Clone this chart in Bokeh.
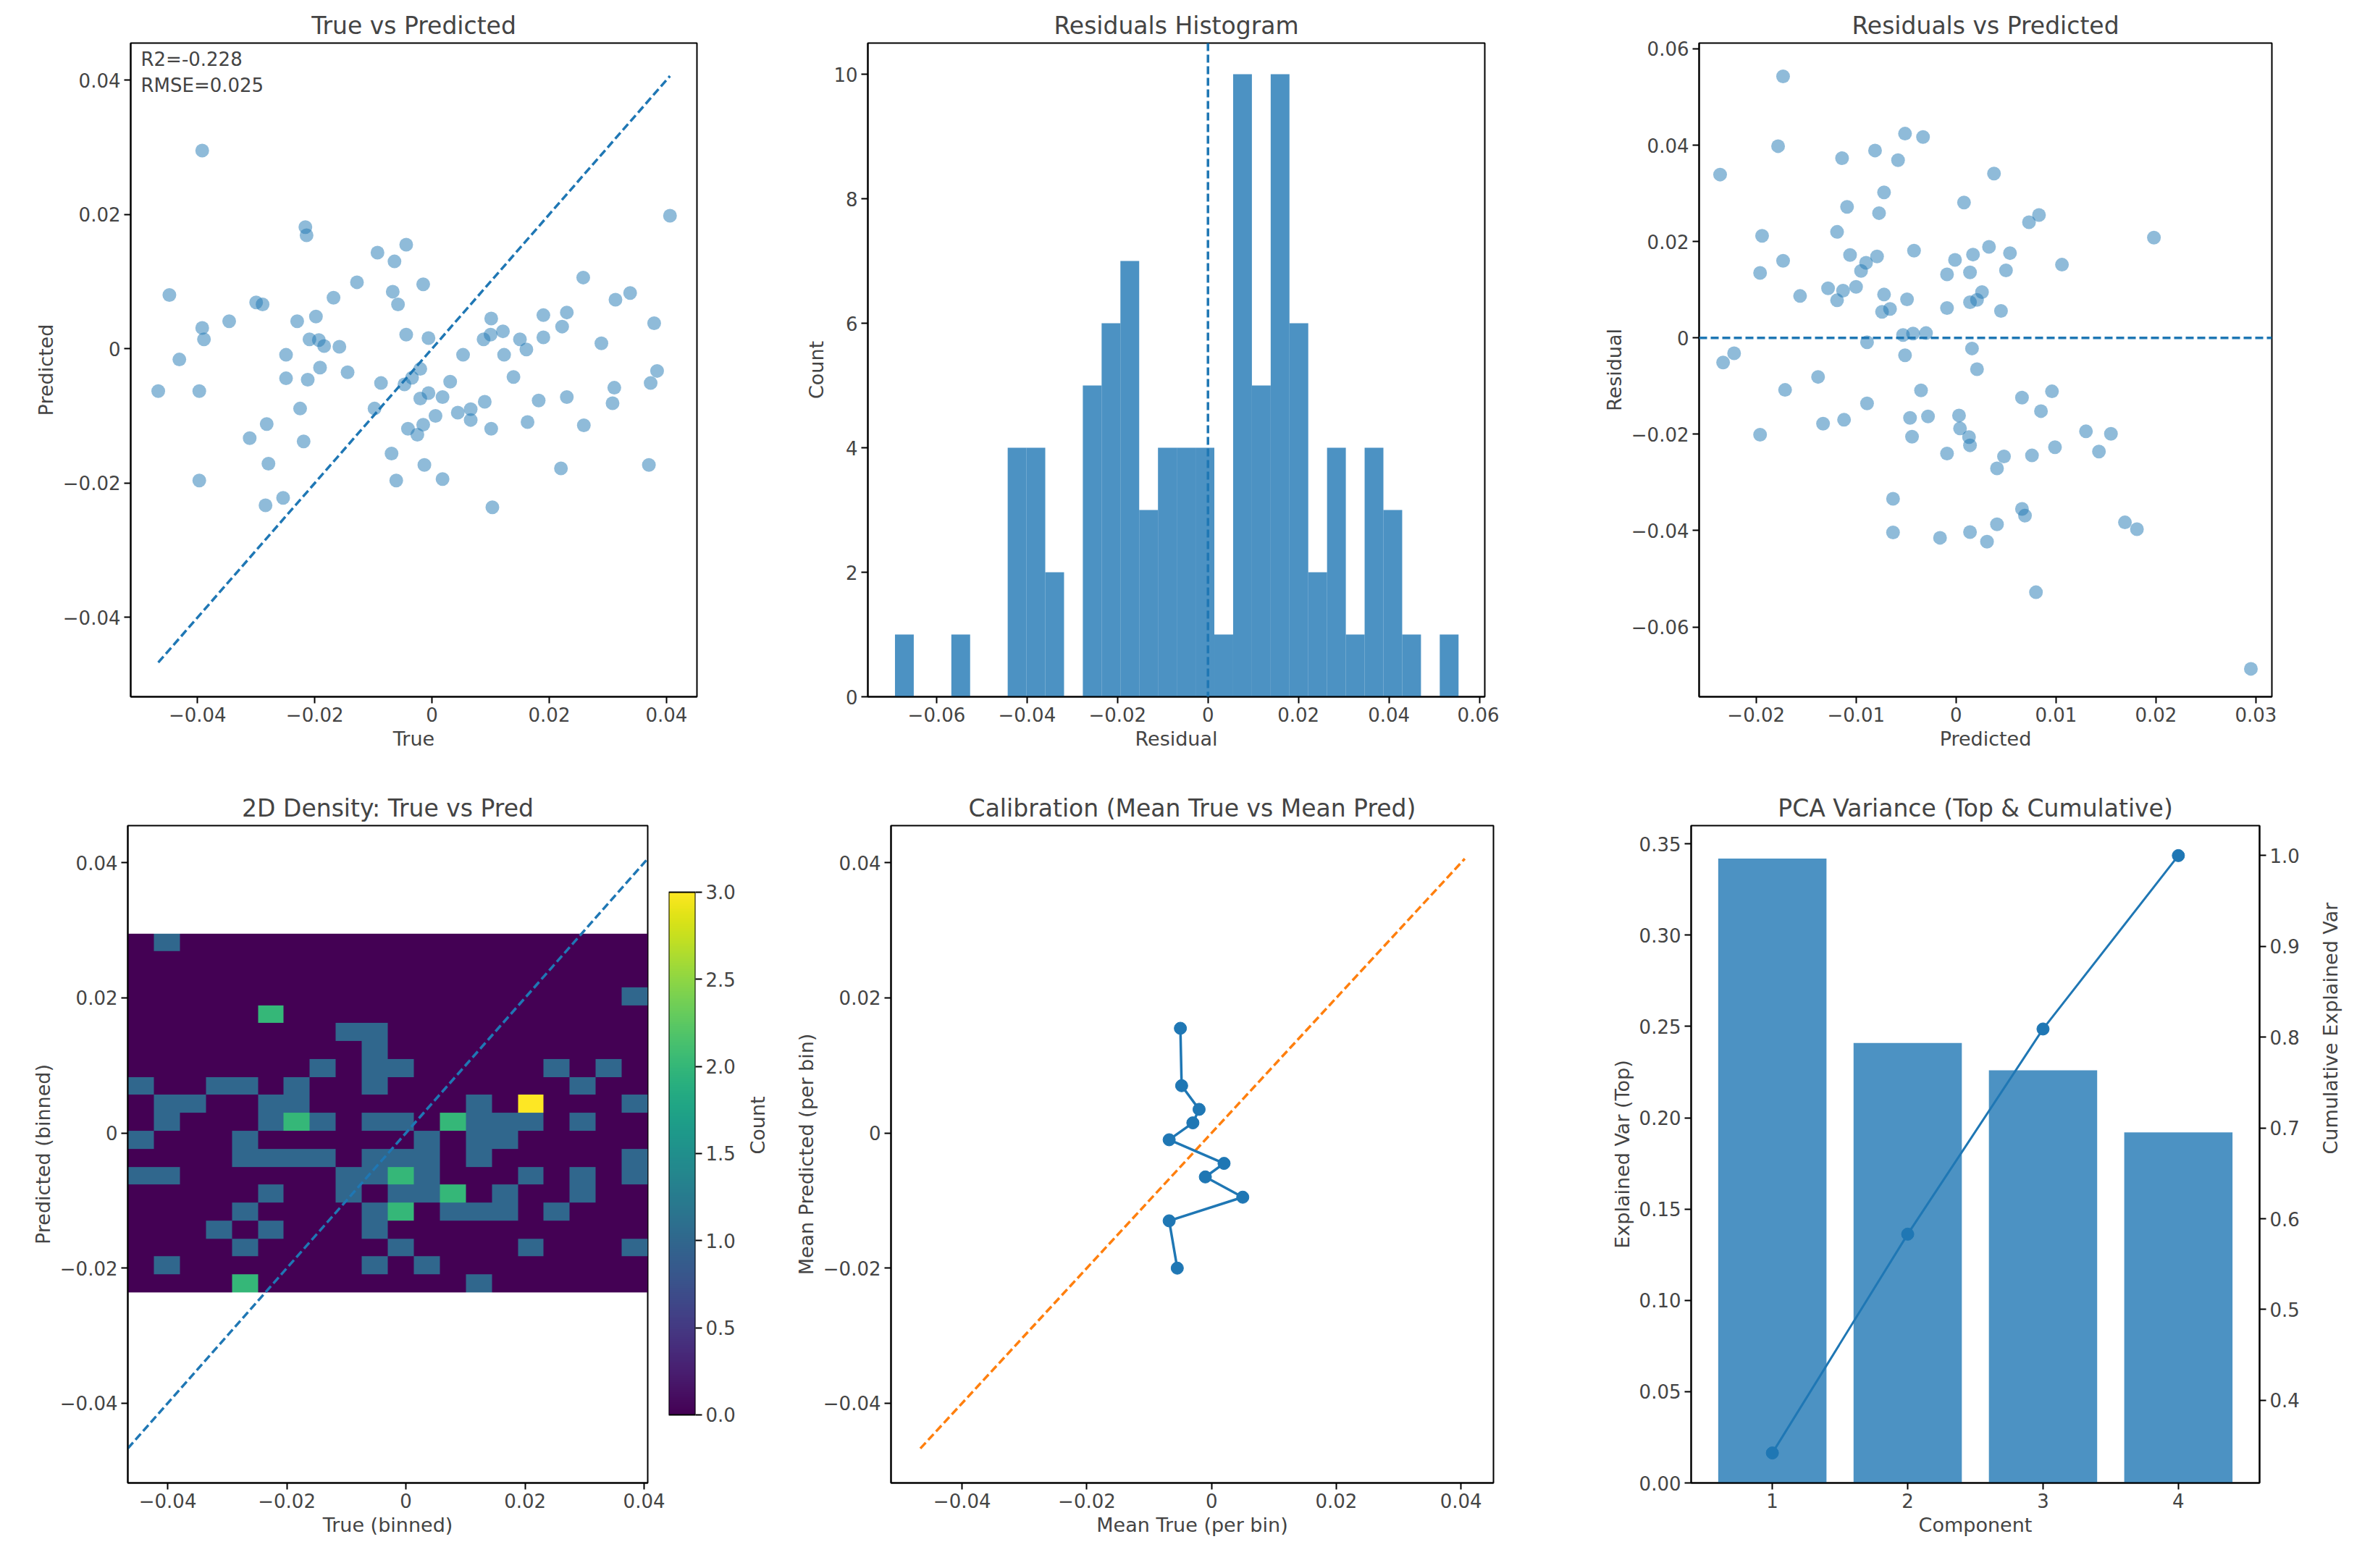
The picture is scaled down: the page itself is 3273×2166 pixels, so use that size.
import math
import numpy as np
from bokeh.plotting import figure
from bokeh.models import Label, Range1d, LinearAxis, LinearColorMapper, FixedTicker, Span
from bokeh.layouts import row, column
from bokeh.embed import file_html
from bokeh.resources import INLINE
from bokeh.palettes import Viridis256

true_vals = [-0.0392,-0.0448,-0.0467,-0.0431,-0.0397,-0.0397,-0.0392,-0.0389,-0.0346,-0.0300,
 -0.0289,-0.0311,-0.0282,-0.0279,-0.0284,-0.0254,-0.0249,-0.0249,-0.0230,-0.0225,
 -0.0219,-0.0212,-0.0216,-0.0214,-0.0209,-0.0198,-0.0193,-0.0184,-0.0191,-0.0168,
 -0.0158,-0.0144,-0.0128,-0.0093,-0.0064,-0.0044,-0.0067,-0.0058,-0.0044,-0.0015,
 -0.0006,-0.0087,-0.0098,-0.0047,-0.0034,-0.0020,-0.0020,-0.0006,0.0018,-0.0041,
 -0.0025,-0.0015,0.0006,-0.0069,-0.0061,-0.0013,0.0018,0.0031,0.0053,0.0044,
 0.0066,0.0066,0.0090,0.0101,0.0103,0.0088,0.0100,0.0121,0.0101,0.0123,
 0.0139,0.0150,0.0161,0.0163,0.0182,0.0190,0.0190,0.0220,0.0222,0.0230,
 0.0230,0.0258,0.0259,0.0289,0.0308,0.0311,0.0313,0.0338,0.0370,0.0373,
 0.0379,0.0384,0.0406]
pred_vals = [0.0295,0.0080,-0.0063,-0.0016,-0.0063,-0.0196,0.0031,0.0014,0.0041,0.0069,
 0.0066,-0.0133,-0.0112,-0.0171,-0.0233,-0.0222,-0.0009,-0.0044,0.0041,-0.0089,
 -0.0138,-0.0046,0.0181,0.0169,0.0014,0.0048,0.0013,0.0004,-0.0028,0.0076,
 0.0003,-0.0035,0.0099,0.0143,0.0130,0.0155,0.0085,0.0066,0.0021,0.0096,
 0.0016,-0.0051,-0.0089,-0.0053,-0.0043,-0.0030,-0.0074,-0.0066,-0.0072,-0.0119,
 -0.0128,-0.0113,-0.0100,-0.0156,-0.0196,-0.0173,-0.0194,-0.0049,-0.0009,-0.0095,
 -0.0090,-0.0106,-0.0079,-0.0119,-0.0236,0.0014,0.0021,0.0026,0.0045,-0.0009,
 -0.0042,0.0014,-0.0001,-0.0109,-0.0077,0.0050,0.0017,-0.0178,0.0033,0.0054,
 -0.0072,0.0106,-0.0114,0.0008,-0.0081,-0.0058,0.0073,0.0083,-0.0173,-0.0051,
 0.0038,-0.0033,0.0198]

hist_counts = [1,0,0,1,0,0,4,4,2,0,5,6,7,3,4,4,4,1,10,5,10,6,2,4,1,4,3,1,0,1]
hist_lo, hist_hi = -0.0692, 0.0554

calib_true = [-0.0050,-0.0048,-0.0020,-0.0030,-0.0068,0.0020,-0.0010,0.0050,-0.0068,-0.0055]
calib_pred = [0.0155,0.0070,0.0035,0.0015,-0.0010,-0.0045,-0.0065,-0.0095,-0.0130,-0.0200]

pca_comp = [1, 2, 3, 4]
pca_var = [0.342, 0.241, 0.226, 0.192]
pca_cum = [0.342, 0.583, 0.809, 1.000]

cbar_ticks = [0, 0.5, 1, 1.5, 2, 2.5, 3]

BLUE = "#1f77b4"
FONT = "DejaVu Sans"
DASH = "11 5"
t = np.array(true_vals); pr = np.array(pred_vals); res = t - pr
lo, hi = t.min(), t.max()

def style(p, title, xl, yl):
    p.title.text = title
    p.title.text_font = FONT; p.title.text_font_size = "33px"; p.title.text_font_style = "normal"
    p.title.align = "center"
    p.xgrid.visible = False; p.ygrid.visible = False
    p.outline_line_color = "black"; p.outline_line_width = 2
    for ax in p.axis:
        ax.major_label_text_font = FONT; ax.major_label_text_font_size = "26px"
        ax.axis_label_text_font = FONT; ax.axis_label_text_font_size = "27px"
        ax.axis_label_text_font_style = "normal"
        ax.minor_tick_line_color = None
        ax.major_tick_out = 9; ax.major_tick_in = 0
        ax.major_tick_line_width = 2; ax.axis_line_width = 2
    p.xaxis.axis_label = xl; p.yaxis.axis_label = yl

def fig(fw, fh, l, r, t_, b, xr, yr, **kw):
    return figure(width=l + fw + r, height=t_ + fh + b, min_border_left=l, min_border_right=r,
                  min_border_top=t_, min_border_bottom=b, x_range=xr, y_range=yr,
                  output_backend="svg", toolbar_location=None, **kw)

# Panel 1
p1 = fig(782, 903, 180, 20, 59, 110, Range1d(-0.0514, 0.0452), Range1d(-0.0518, 0.0455))
p1.scatter(true_vals, pred_vals, size=19, color=BLUE, alpha=0.5, line_color=None)
p1.line([lo, hi], [lo, hi], line_dash=DASH, line_width=3.5, color=BLUE)
p1.add_layout(Label(x=14, y=830, x_units="screen", y_units="screen",
                    text="R2=-0.228\nRMSE=0.025", text_font=FONT, text_font_size="26px"))
p1.xaxis.ticker = [-0.04, -0.02, 0, 0.02, 0.04]
p1.yaxis.ticker = [-0.04, -0.02, 0, 0.02, 0.04]
style(p1, "True vs Predicted", "True", "Predicted")

# Panel 2
edges = np.linspace(hist_lo, hist_hi, len(hist_counts) + 1)
p2 = fig(852, 903, 216, 20, 59, 110, Range1d(-0.0752, 0.0612), Range1d(0, 10.5))
p2.quad(left=edges[:-1], right=edges[1:], bottom=0, top=hist_counts, color=BLUE, alpha=0.8, line_color=None)
p2.add_layout(Span(location=0, dimension="height", line_dash=DASH, line_width=3.5, line_color=BLUE))
p2.xaxis.ticker = [-0.06, -0.04, -0.02, 0, 0.02, 0.04, 0.06]
p2.yaxis.ticker = [0, 2, 4, 6, 8, 10]
style(p2, "Residuals Histogram", "Residual", "Count")

# Panel 3
p3 = fig(791, 903, 276, 30, 59, 110, Range1d(-0.0257, 0.0316), Range1d(-0.0745, 0.0612))
p3.scatter(pred_vals, res, size=19, color=BLUE, alpha=0.5, line_color=None)
p3.add_layout(Span(location=0, dimension="width", line_dash=DASH, line_width=3.5, line_color=BLUE))
p3.xaxis.ticker = [-0.02, -0.01, 0, 0.01, 0.02, 0.03]
p3.yaxis.ticker = [-0.06, -0.04, -0.02, 0, 0.02, 0.04, 0.06]
style(p3, "Residuals vs Predicted", "Predicted", "Residual")

# Panel 4
H, xe, ye = np.histogram2d(t, pr, bins=20)
cmap = LinearColorMapper(palette=Viridis256, low=0, high=3)
p4 = fig(718, 908, 176, 29, 68, 100, Range1d(lo, hi), Range1d(-0.0518, 0.0455))
p4.image(image=[H.T], x=xe[0], y=ye[0], dw=xe[-1]-xe[0], dh=ye[-1]-ye[0], color_mapper=cmap)
p4.line([lo, hi], [lo, hi], line_dash=DASH, line_width=3.5, color=BLUE)
p4.xaxis.ticker = [-0.04, -0.02, 0, 0.02, 0.04]
p4.yaxis.ticker = [-0.04, -0.02, 0, 0.02, 0.04]
style(p4, "2D Density: True vs Pred", "True (binned)", "Predicted (binned)")

# Colorbar (own narrow figure, same borders so frames align)
cb = fig(37, 908, 0, 134, 68, 100, Range1d(0, 1), Range1d(-0.391, 3.382), y_axis_location="right")
cb.image(image=[np.linspace(0, 3, 256).reshape(256, 1)], x=0, y=0, dw=1, dh=3, color_mapper=cmap)
cb.quad(left=0, right=1, bottom=0, top=3, fill_color=None, line_color="black", line_width=2)
cb.xaxis.visible = False
style(cb, "", "", "Count")
cb.outline_line_color = None
cb.yaxis.ticker = cbar_ticks
cb.yaxis.bounds = (0, 3)
cb.yaxis.axis_line_color = None
cb.yaxis.major_label_overrides = {0: "0.0", 1: "1.0", 2: "2.0", 3: "3.0"}
cb.yaxis.axis_label_orientation = math.pi / 2
cb.yaxis.axis_label_standoff = 28

# Panel 5
p5 = fig(852, 908, 116, 20, 68, 100, Range1d(-0.0514, 0.0452), Range1d(-0.0518, 0.0455))
p5.line([lo, hi], [lo, hi], line_dash=DASH, line_width=3.5, color="#ff7f0e")
p5.line(calib_true, calib_pred, line_width=3.5, color=BLUE)
p5.scatter(calib_true, calib_pred, size=17, color=BLUE)
p5.xaxis.ticker = [-0.04, -0.02, 0, 0.02, 0.04]
p5.yaxis.ticker = [-0.04, -0.02, 0, 0.02, 0.04]
style(p5, "Calibration (Mean True vs Mean Pred)", "Mean True (per bin)", "Mean Predicted (per bin)")

# Panel 6
p6 = fig(797, 908, 253, 120, 68, 100, Range1d(0.4, 4.6), Range1d(0, 0.36))
p6.vbar(x=pca_comp, top=pca_var, width=0.8, color=BLUE, alpha=0.8, line_color=None)
p6.extra_y_ranges = {"cum": Range1d(0.309, 1.033)}
ax2 = LinearAxis(y_range_name="cum", ticker=FixedTicker(ticks=[0.4, 0.5, 0.6, 0.7, 0.8, 0.9, 1.0]),
                 major_label_overrides={1.0: "1.0"})
p6.add_layout(ax2, "right")
p6.line(pca_comp, pca_cum, y_range_name="cum", line_width=3, color=BLUE)
p6.scatter(pca_comp, pca_cum, y_range_name="cum", size=17, color=BLUE)
p6.xaxis.ticker = pca_comp
p6.yaxis[0].ticker = [0, 0.05, 0.1, 0.15, 0.2, 0.25, 0.3, 0.35]
p6.yaxis[0].major_label_overrides = {0: "0.00", 0.05: "0.05", 0.1: "0.10", 0.15: "0.15",
                                     0.2: "0.20", 0.25: "0.25", 0.3: "0.30", 0.35: "0.35"}
style(p6, "PCA Variance (Top & Cumulative)", "Component", "Explained Var (Top)")
p6.yaxis[0].axis_label = "Explained Var (Top)"
ax2.axis_label = "Cumulative Explained Var"
ax2.axis_label_orientation = math.pi / 2
ax2.axis_label_standoff = 40

layout = column(row(p1, p2, p3), row(p4, cb, p5, p6))
open("out.html", "w").write(file_html(layout, INLINE))
